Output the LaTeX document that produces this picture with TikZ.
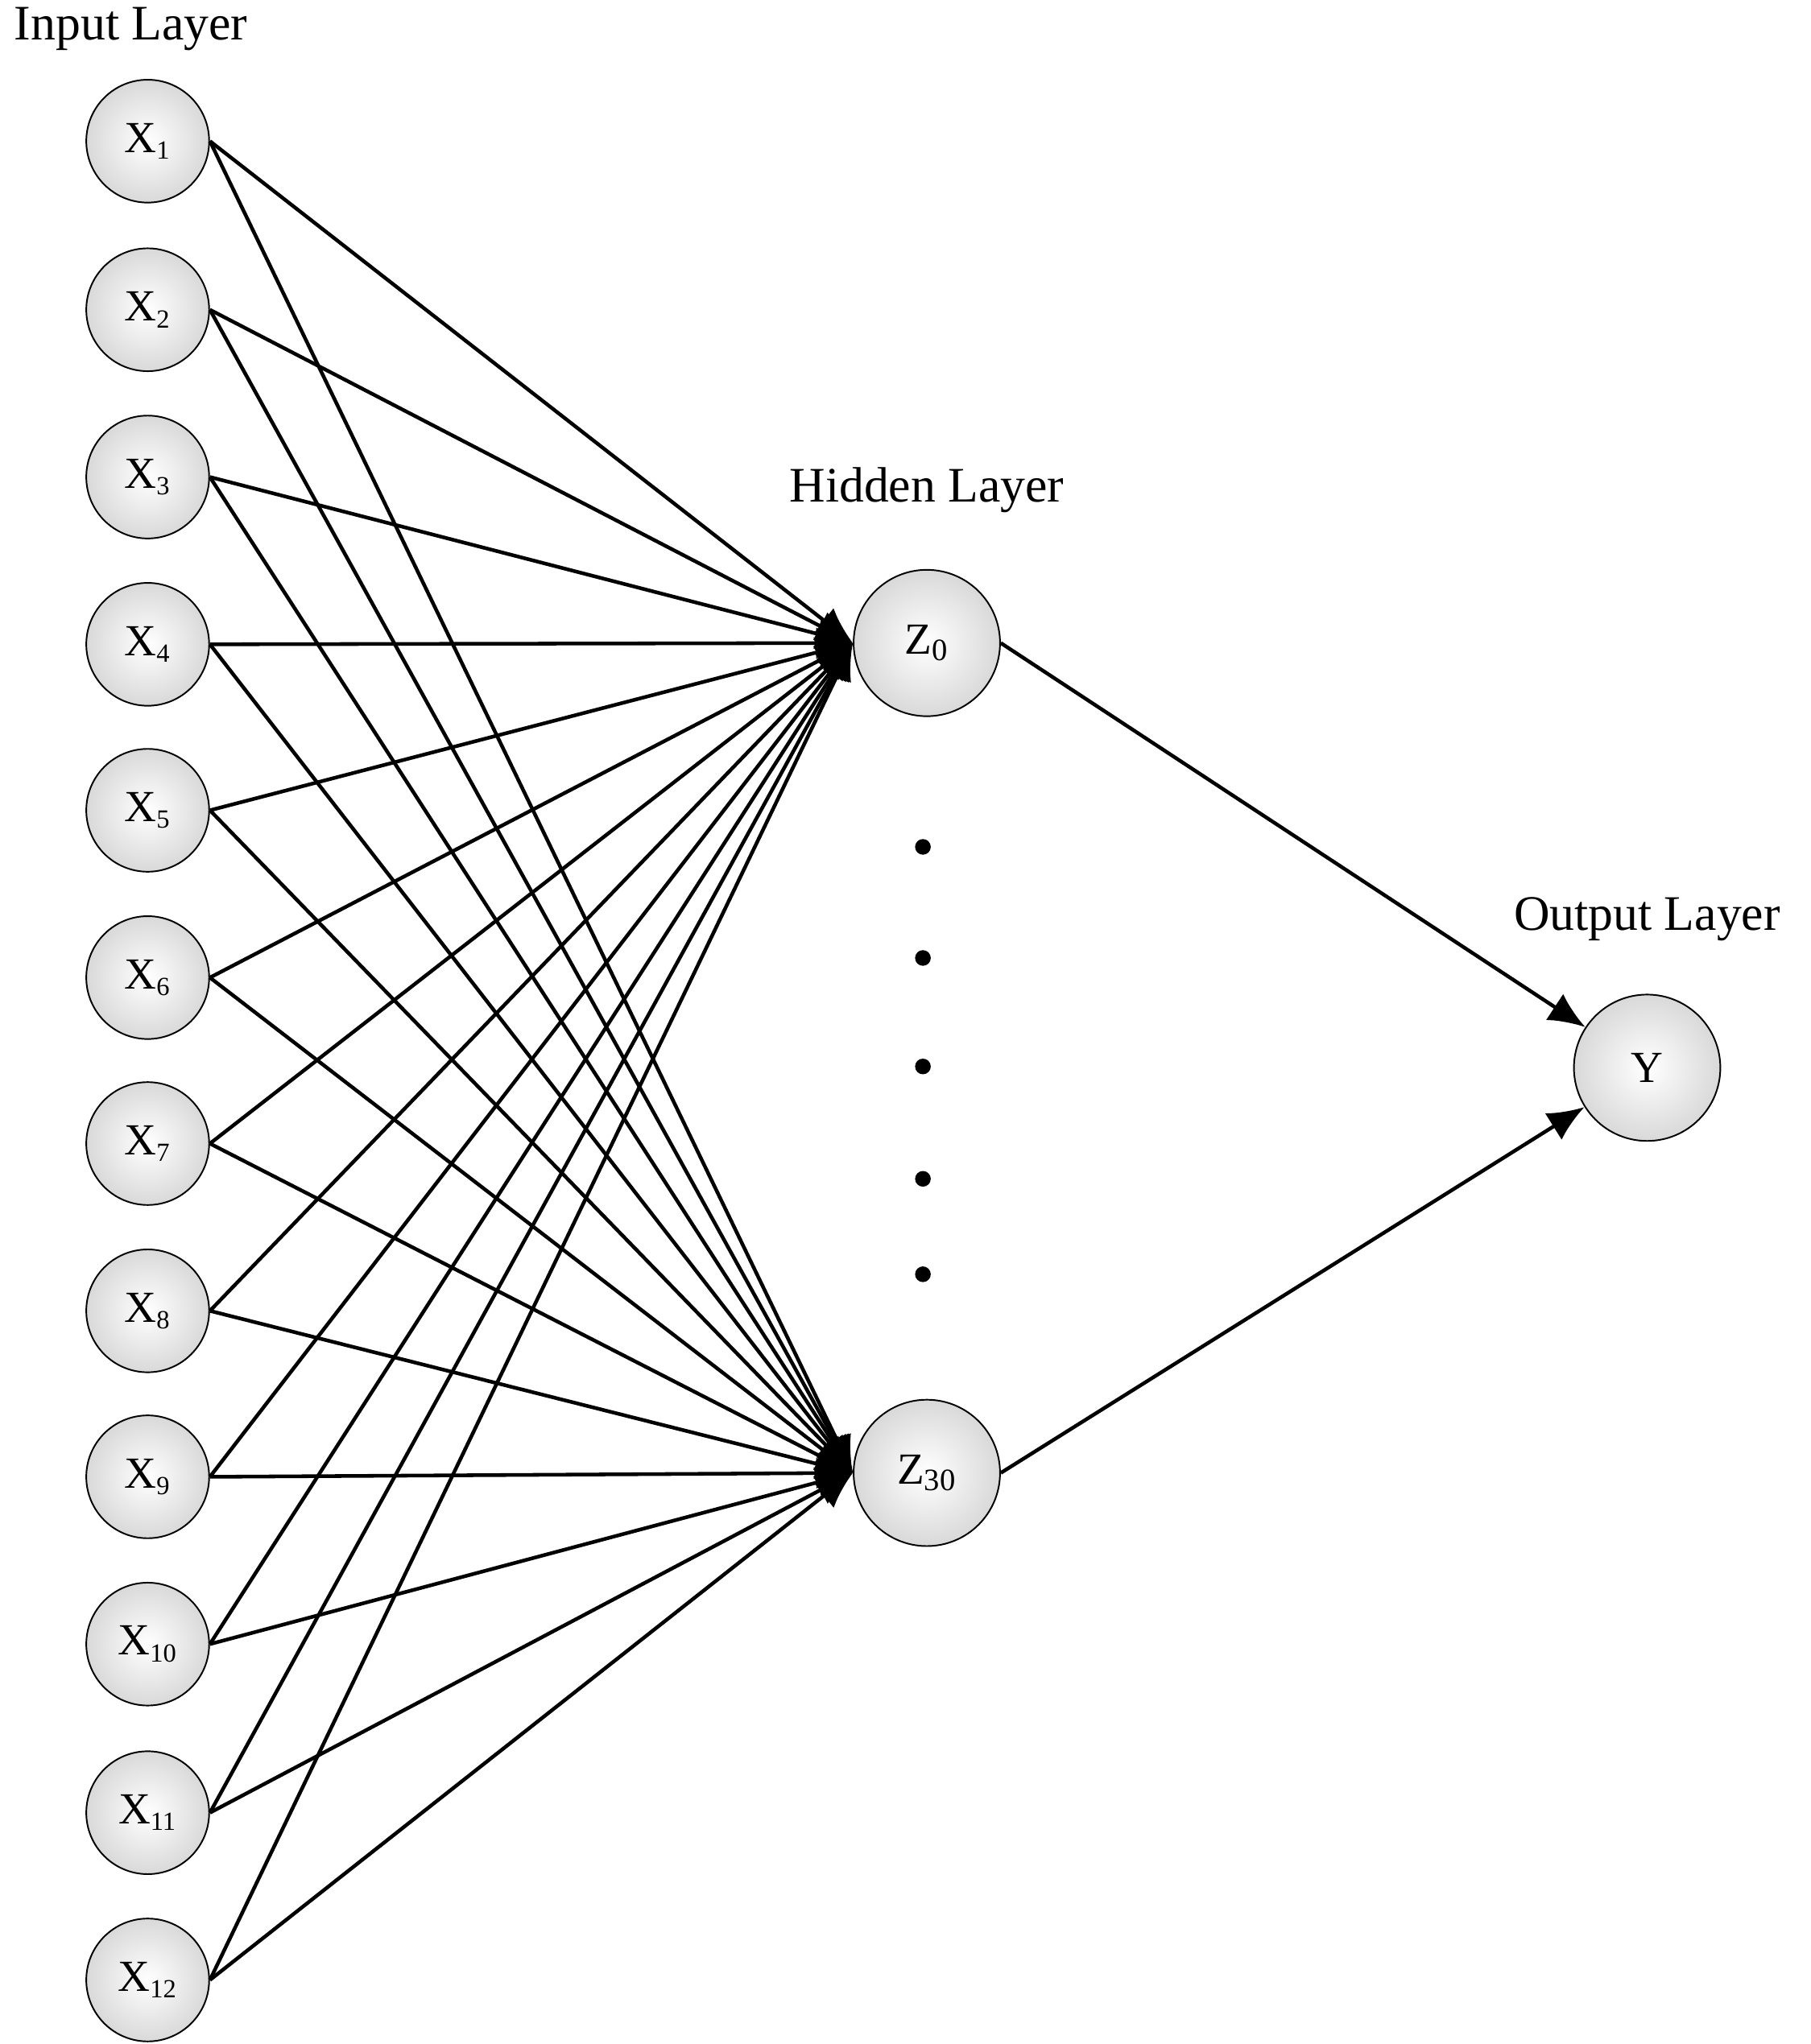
\documentclass[tikz,border=0pt]{standalone}
\usepackage{fontspec}
\setmainfont{Liberation Serif}
\usetikzlibrary{arrows.meta}
\begin{document}
\begin{tikzpicture}[x=0.5pt,y=-0.5pt,
  neuron/.style={circle,draw=black,line width=0.6pt,inner color=white,outer color=gray!30,font=\fontsize{17}{20}\selectfont},
  inp/.style={neuron,minimum size=47pt},
  hid/.style={neuron,minimum size=56pt},
  conn/.style={line width=1.4pt,-{Latex[length=14pt,width=12pt]}},
  lbl/.style={font=\fontsize{19}{22}\selectfont},
  dot/.style={circle,fill=black,inner sep=0pt,minimum size=6pt}]
\useasboundingbox (0,0) rectangle (1385,1564);
\node[lbl,anchor=west] (tin) at (4,22) {Input Layer};
\node[lbl] (thid) at (709,375) {Hidden Layer};
\node[lbl] (tout) at (1260,703) {Output Layer};
\foreach \i/\y in {1/108,2/237,3/365,4/493,5/620,6/748,7/875,8/1003,9/1130,10/1258,11/1387,12/1515}{
  \node[inp] (x\i) at (113,\y) {X\textsubscript{\fontsize{10}{12}\selectfont\i}};
}
\node[hid] (z0) at (709,492) {Z\textsubscript{0}};
\node[hid] (z30) at (709,1127) {Z\textsubscript{30}};
\node[hid] (y) at (1260,817) {Y};
\foreach \y [count=\k] in {648,733,816,902,975}{\node[dot] (d\k) at (706,\y) {};}
\foreach \i in {1,...,12}{
  \draw[conn] (x\i.east) -- (z0.west);
  \draw[conn] (x\i.east) -- (z30.west);
}
\draw[conn] (z0.east) -- (y);
\draw[conn] (z30.east) -- (y);
\end{tikzpicture}
\end{document}
